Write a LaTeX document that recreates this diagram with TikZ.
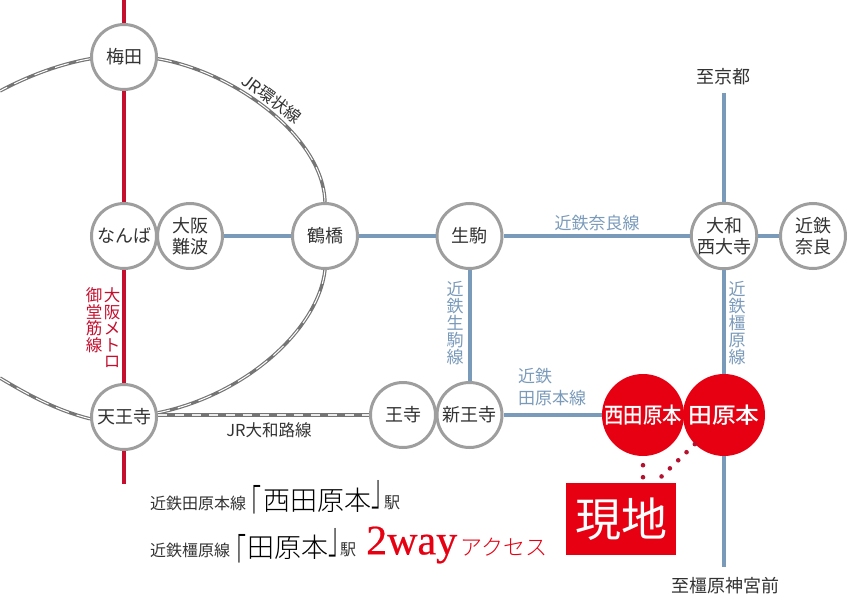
\documentclass[tikz,border=0pt]{standalone}
\usepackage{fontspec}
\setmainfont{Noto Sans CJK JP}
\newfontfamily\latinserif[FakeBold=0.5]{Liberation Serif}
\newfontfamily\jplight{Noto Sans CJK JP Light}
\newfontfamily\jpmedium{Noto Sans CJK JP Medium}
\newcommand{\fsz}[2]{\fontsize{#1}{#2}\selectfont}
\definecolor{ringgray}{HTML}{9E9E9E}
\definecolor{jrgray}{HTML}{757575}
\definecolor{kintetsu}{HTML}{7A9ABA}
\definecolor{metrored}{HTML}{C4102E}
\definecolor{sitered}{HTML}{E60012}
\definecolor{dotred}{HTML}{B5122F}
\definecolor{inkgray}{HTML}{333333}
\tikzset{
	station/.style={circle, draw=ringgray, line width=3pt, fill=white, minimum size=65pt, inner sep=0pt, align=center, text=inkgray, font=\fsz{18}{21}},
	target/.style={circle, fill=sitered, minimum size=82pt, inner sep=0pt, text=white, font=\jpmedium\fsz{22}{22}},
	metroline/.style={draw=metrored, line width=4pt},
	kinline/.style={draw=kintetsu, line width=4pt},
	jrline/.style={draw=jrgray, line width=3.4pt, postaction={draw=white, line width=1pt, dash pattern=on 14pt off 8pt}},
	yamatoline/.style={draw=jrgray, line width=3.5pt, postaction={draw=white!92!black, line width=2.4pt, dash pattern=on 9pt off 8pt}},
	dotline/.style={draw=dotred, line width=4.6pt, line cap=round},
	bluetext/.style={text=kintetsu, align=center, font=\fsz{17}{17}},
	redtext/.style={text=metrored, align=center, font=\fsz{16.5}{16.5}},
	blacktext/.style={text=inkgray, inner sep=0pt, font=\fsz{18}{18}},
	small/.style={text=inkgray, anchor=west, inner sep=0pt, font=\fsz{16}{16}},
	large/.style={text=black, anchor=west, inner sep=0pt, font=\jplight\fsz{27}{27}},
	bracket/.style={text=black, anchor=base west, inner sep=0pt, xscale=0.5, font=\jplight\fsz{44}{44}},
}
\begin{document}
\begin{tikzpicture}[x=1pt,y=-1pt]
	\useasboundingbox (0,0) rectangle (860,610);

	\node (umeda) [station] at (124,57) {梅田};
	\node (namba) [station] at (124,236) {なんば};
	\node (osakanamba) [station] at (190,236) {大阪\\難波};
	\node (tsuruhashi) [station] at (325,236) {鶴橋};
	\node (ikoma) [station] at (469.5,236) {生駒};
	\node (saidaiji) [station] at (724,236) {大和\\西大寺};
	\node (nara) [station] at (813,236) {近鉄\\奈良};
	\node (tennoji) [station] at (124,417) {天王寺};
	\node (oji) [station] at (403,415) {王寺};
	\node (shinoji) [station] at (469.5,415) {新王寺};
	\node (nishitawara) [target] at (643,415) {\scalebox{0.88}[1]{西田原本}};
	\node (tawara) [target] at (724,415) {\scalebox{1.08}[1]{田原本}};
	\node (genchi) [fill=sitered, text=white, minimum width=110pt, minimum height=72pt, inner sep=0pt, font=\fsz{46}{46}] at (621,519) {現地};

	\coordinate (metrotop) at (124,0);
	\coordinate (metroend) at (124,484);
	\coordinate (kyotoend) at (724,93);
	\coordinate (kashiend) at (724,567);
	\coordinate (loopnw) at (0,91);
	\coordinate (loopsw) at (0,378);

	\draw [metroline] (metrotop) to (umeda);
	\draw [metroline] (umeda) to (namba);
	\draw [metroline] (namba) to (tennoji);
	\draw [metroline] (tennoji) to (metroend);

	\draw [kinline] (osakanamba) to (tsuruhashi);
	\draw [kinline] (tsuruhashi) to (ikoma);
	\draw [kinline] (ikoma) to (saidaiji);
	\draw [kinline] (saidaiji) to (nara);
	\draw [kinline] (ikoma) to (shinoji);
	\draw [kinline] (shinoji) to (nishitawara);
	\draw [kinline] (kyotoend) to (saidaiji);
	\draw [kinline] (saidaiji) to (tawara);
	\draw [kinline] (tawara) to (kashiend);

	\draw [jrline] (umeda.-3) .. controls (235,72) and (323,137) .. (tsuruhashi.north);
	\draw [jrline] (tsuruhashi.south) .. controls (318,330) and (245,395) .. (tennoji.7);
	\draw [jrline] (umeda.183) .. controls (60,64) and (28,76) .. (loopnw);
	\draw [jrline] (tennoji.183) .. controls (55,410) and (25,393) .. (loopsw);
	\draw [yamatoline] (tennoji.east |- oji) to (oji);

	\draw [dotline, dash pattern=on 0pt off 12pt, dash phase=3pt] (nishitawara.south) to (genchi.north -| nishitawara.south);
	\draw [dotline, dash pattern=on 0pt off 11.6pt] (tawara.225) to (genchi.north -| 655,0);

	\node (jrloop) [text=inkgray, rotate=-37, font=\fsz{16.5}{16.5}] at (272,99) {JR環状線};
	\node (yamatoji) [text=inkgray, font=\fsz{16.5}{16.5}] at (269,430) {JR大和路線};
	\node (metroa) [redtext] at (112,328) {大\\阪\\メ\\ト\\ロ};
	\node (metrob) [redtext] at (94,320) {御\\堂\\筋\\線};
	\node (naraline) [bluetext] at (597,223) {近鉄奈良線};
	\node (ikomaline) [bluetext] at (455,323) {近\\鉄\\生\\駒\\線};
	\node (kashiline) [bluetext] at (737,323) {近\\鉄\\橿\\原\\線};
	\node (tawaraline) [bluetext, align=left, font=\fsz{17}{22}] at (552,387) {近鉄\\田原本線};
	\node (kyoto) [blacktext] at (723,77) {至京都};
	\node (kashihara) [blacktext] at (725,586) {至橿原神宮前};

	\node (lineone) [small] at (150,503) {近鉄田原本線};
	\node (openone) [bracket] at (239.7,522) {「};
	\node (nameone) [large] at (263,500) {西田原本};
	\node (closeone) [bracket] at (371,505) {」};
	\node (ekione) [small] at (384,503) {駅};
	\node (linetwo) [small] at (150,550) {近鉄橿原線};
	\node (opentwo) [bracket] at (224.7,571) {「};
	\node (nametwo) [large] at (247,547) {田原本};
	\node (closetwo) [bracket] at (328,553) {」};
	\node (ekitwo) [small] at (340,550) {駅};
	\node (twoway) [text=sitered, anchor=west, inner sep=0pt, font=\latinserif\fsz{42}{42}] at (366,545) {2way};
	\node (access) [text=sitered, anchor=west, inner sep=0pt, font=\jplight\fsz{22}{22}] at (460,547) {アクセス};
\end{tikzpicture}
\end{document}
